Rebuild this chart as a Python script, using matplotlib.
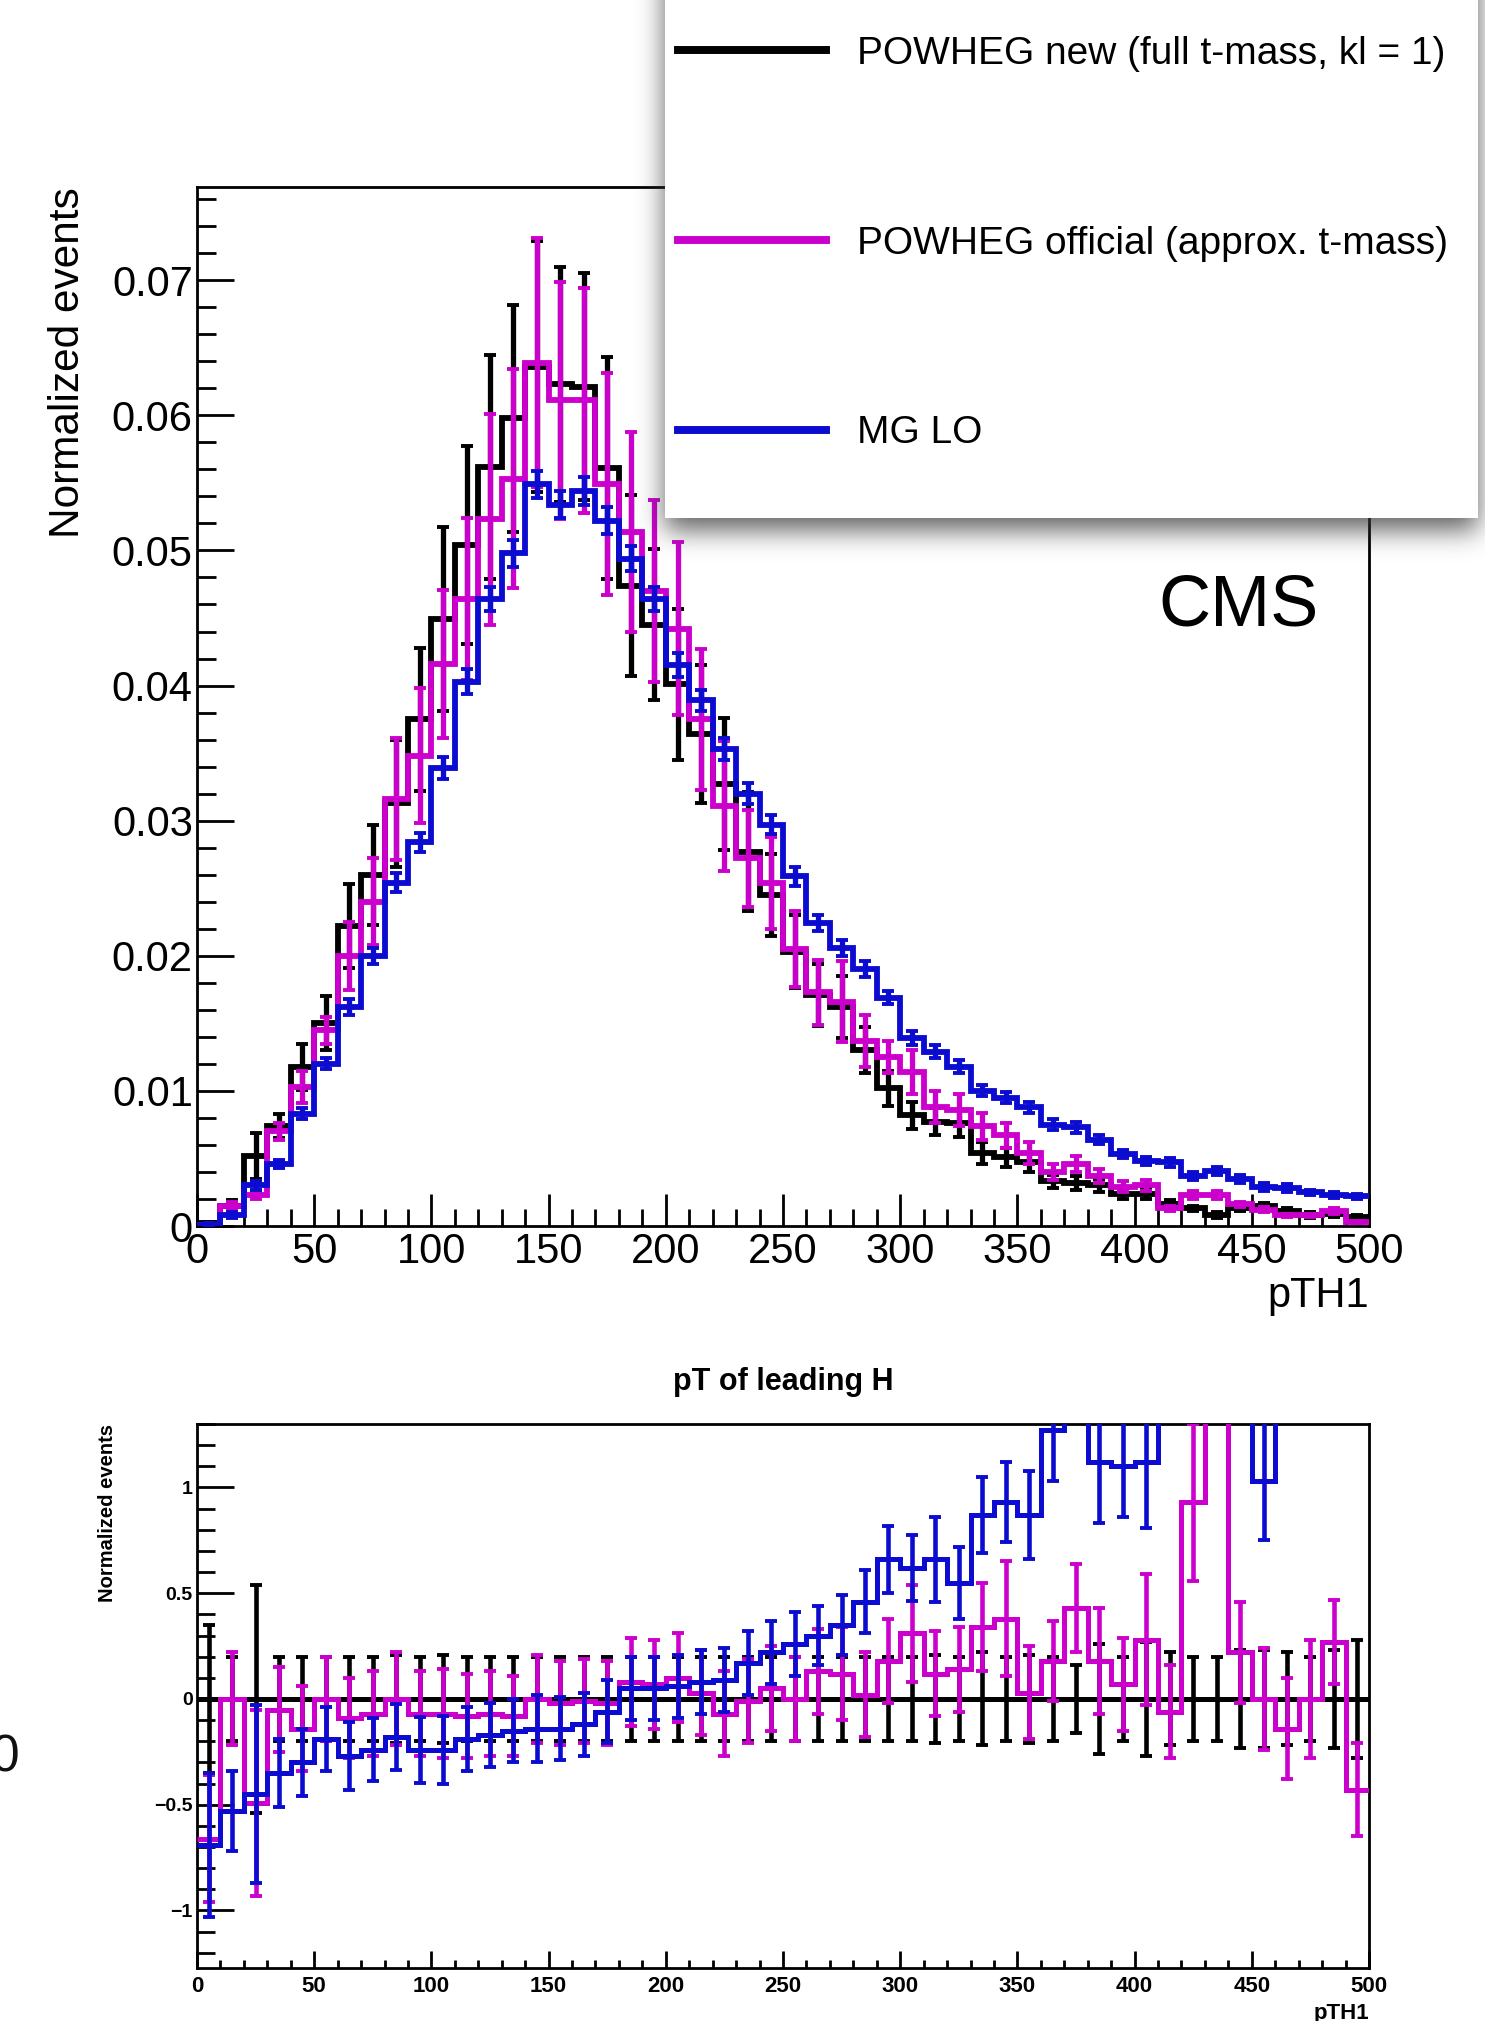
import math
import numpy as np
import matplotlib
matplotlib.use("Agg")
import matplotlib.pyplot as plt
from matplotlib.patches import Rectangle
from matplotlib.lines import Line2D
from matplotlib.ticker import MultipleLocator, FuncFormatter

plt.rcParams['font.family'] = ['Liberation Sans', 'DejaVu Sans']

# ---------------- data ----------------
bin_edges = [0, 10, 20, 30, 40, 50, 60, 70, 80, 90, 100, 110, 120, 130, 140, 150, 160, 170, 180, 190,
             200, 210, 220, 230, 240, 250, 260, 270, 280, 290, 300, 310, 320, 330, 340, 350, 360, 370,
             380, 390, 400, 410, 420, 430, 440, 450, 460, 470, 480, 490, 500]

labels = ["POWHEG new (full t-mass, kl = 1)",
          "POWHEG official (approx. t-mass)",
          "MG LO"]

powheg_new = [0.0002, 0.0015, 0.0052, 0.0074, 0.0118, 0.0150, 0.0222, 0.0260, 0.0313, 0.0375,
              0.0449, 0.0504, 0.0562, 0.0598, 0.0636, 0.0623, 0.0621, 0.0561, 0.0474, 0.0445,
              0.0401, 0.0364, 0.0327, 0.0277, 0.0245, 0.0203, 0.0171, 0.0162, 0.0130, 0.0102,
              0.0082, 0.0077, 0.0076, 0.0054, 0.0051, 0.0047, 0.0033, 0.0032, 0.0030, 0.0024,
              0.0024, 0.0016, 0.0013, 0.0008, 0.0013, 0.0015, 0.0011, 0.0008, 0.0009, 0.0007]
powheg_new_err = [0.0001, 0.0004, 0.0017, 0.0009, 0.0017, 0.0020, 0.0031, 0.0037, 0.0047, 0.0053,
                  0.0068, 0.0073, 0.0083, 0.0084, 0.0093, 0.0087, 0.0084, 0.0082, 0.0067, 0.0056,
                  0.0056, 0.0051, 0.0049, 0.0044, 0.0030, 0.0027, 0.0023, 0.0023, 0.0017, 0.0013,
                  0.0010, 0.0010, 0.0010, 0.0008, 0.0007, 0.0007, 0.0005, 0.0005, 0.0005, 0.0004,
                  0.0004, 0.0003, 0.0002, 0.0002, 0.0002, 0.0002, 0.0002, 0.0002, 0.0002, 0.0001]

powheg_off = [0.0001, 0.0015, 0.0023, 0.0070, 0.0103, 0.0145, 0.0200, 0.0240, 0.0316, 0.0348,
              0.0416, 0.0464, 0.0523, 0.0553, 0.0639, 0.0611, 0.0611, 0.0549, 0.0514, 0.0470,
              0.0442, 0.0375, 0.0311, 0.0272, 0.0254, 0.0205, 0.0173, 0.0166, 0.0137, 0.0125,
              0.0114, 0.0088, 0.0086, 0.0074, 0.0067, 0.0054, 0.0040, 0.0046, 0.0037, 0.0029,
              0.0030, 0.0013, 0.0023, 0.0023, 0.0016, 0.0012, 0.0008, 0.0008, 0.0011, 0.0003]
powheg_off_err = [0.0001, 0.0003, 0.0003, 0.0006, 0.0012, 0.0010, 0.0025, 0.0032, 0.0045, 0.0050,
                  0.0055, 0.0060, 0.0078, 0.0081, 0.0092, 0.0088, 0.0083, 0.0082, 0.0074, 0.0067,
                  0.0064, 0.0052, 0.0048, 0.0036, 0.0034, 0.0028, 0.0024, 0.0030, 0.0019, 0.0012,
                  0.0016, 0.0012, 0.0012, 0.0010, 0.0009, 0.0008, 0.0006, 0.0006, 0.0005, 0.0004,
                  0.0004, 0.0002, 0.0003, 0.0003, 0.0002, 0.0002, 0.0001, 0.0001, 0.0002, 0.0001]

mg_lo = [0.0001, 0.0008, 0.0030, 0.0046, 0.0083, 0.0120, 0.0162, 0.0200, 0.0254, 0.0284,
         0.0339, 0.0403, 0.0464, 0.0498, 0.0549, 0.0534, 0.0544, 0.0522, 0.0494, 0.0464,
         0.0415, 0.0389, 0.0353, 0.0320, 0.0297, 0.0259, 0.0224, 0.0206, 0.0190, 0.0169,
         0.0139, 0.0129, 0.0118, 0.0100, 0.0095, 0.0088, 0.0075, 0.0073, 0.0064, 0.0053,
         0.0048, 0.0047, 0.0037, 0.0041, 0.0035, 0.0029, 0.0028, 0.0025, 0.0023, 0.0022]
mg_lo_err = [0.0001, 0.0002, 0.0003, 0.0003, 0.0004, 0.0004, 0.0006, 0.0006, 0.0007, 0.0007,
             0.0008, 0.0009, 0.0009, 0.0010, 0.0010, 0.0010, 0.0010, 0.0010, 0.0009, 0.0009,
             0.0009, 0.0008, 0.0008, 0.0008, 0.0007, 0.0007, 0.0006, 0.0006, 0.0006, 0.0005,
             0.0005, 0.0005, 0.0005, 0.0004, 0.0004, 0.0004, 0.0004, 0.0004, 0.0003, 0.0003,
             0.0003, 0.0003, 0.0003, 0.0003, 0.0003, 0.0003, 0.0003, 0.0002, 0.0002, 0.0002]

# relative differences shown in the lower panel
ratio_new = [0.0, 0.0, 0.0, 0.0, 0.0, 0.0, 0.0, 0.0, 0.0, 0.0,
             0.0, 0.0, 0.0, 0.0, 0.0, 0.0, 0.0, 0.0, 0.0, 0.0,
             0.0, 0.0, 0.0, 0.0, 0.0, 0.0, 0.0, 0.0, 0.0, 0.0,
             0.0, 0.0, 0.0, 0.0, 0.0, 0.0, 0.0, 0.0, 0.0, 0.0,
             0.0, 0.0, 0.0, 0.0, 0.0, 0.0, 0.0, 0.0, 0.0, 0.0]
ratio_new_err = [0.35, 0.20, 0.54, 0.20, 0.20, 0.20, 0.20, 0.20, 0.21, 0.20,
                 0.21, 0.20, 0.20, 0.20, 0.20, 0.20, 0.20, 0.20, 0.20, 0.20,
                 0.20, 0.20, 0.20, 0.20, 0.20, 0.20, 0.20, 0.20, 0.20, 0.20,
                 0.20, 0.21, 0.20, 0.22, 0.20, 0.21, 0.20, 0.16, 0.26, 0.20,
                 0.27, 0.22, 0.20, 0.20, 0.23, 0.23, 0.22, 0.20, 0.23, 0.28]

ratio_off = [-0.66, 0.00, -0.49, -0.05, -0.14, 0.00, -0.09, -0.07, 0.00, -0.07,
             -0.07, -0.08, -0.07, -0.08, 0.00, -0.02, -0.01, -0.02, 0.08, 0.07,
             0.10, 0.03, -0.07, -0.01, 0.05, 0.00, 0.13, 0.12, 0.02, 0.18,
             0.31, 0.12, 0.14, 0.34, 0.38, 0.03, 0.18, 0.43, 0.18, 0.07,
             0.28, -0.06, 0.93, 2.00, 0.22, 0.00, -0.14, 0.00, 0.27, -0.43]
ratio_off_err = [0.30, 0.22, 0.44, 0.20, 0.20, 0.20, 0.19, 0.20, 0.22, 0.20,
                 0.21, 0.20, 0.20, 0.19, 0.21, 0.20, 0.20, 0.20, 0.21, 0.21,
                 0.21, 0.20, 0.20, 0.20, 0.20, 0.20, 0.20, 0.22, 0.20, 0.20,
                 0.23, 0.20, 0.20, 0.21, 0.27, 0.22, 0.19, 0.21, 0.25, 0.22,
                 0.31, 0.22, 0.37, 0.50, 0.24, 0.24, 0.24, 0.28, 0.20, 0.22]

ratio_mg = [-0.69, -0.53, -0.45, -0.35, -0.30, -0.19, -0.27, -0.24, -0.18, -0.24,
            -0.24, -0.19, -0.17, -0.15, -0.14, -0.14, -0.12, -0.06, 0.05, 0.05,
            0.06, 0.08, 0.09, 0.17, 0.22, 0.26, 0.30, 0.35, 0.46, 0.66,
            0.62, 0.66, 0.55, 0.87, 0.93, 0.87, 1.27, 1.90, 1.12, 1.10,
            1.12, 1.90, 2.20, 2.80, 2.00, 1.03, 1.80, 2.20, 1.90, 2.10]
ratio_mg_err = [0.34, 0.19, 0.42, 0.16, 0.16, 0.15, 0.16, 0.15, 0.155, 0.155,
                0.16, 0.15, 0.15, 0.15, 0.16, 0.15, 0.15, 0.15, 0.15, 0.15,
                0.15, 0.15, 0.15, 0.15, 0.15, 0.15, 0.14, 0.14, 0.15, 0.16,
                0.155, 0.20, 0.17, 0.18, 0.19, 0.21, 0.24, 0.30, 0.29, 0.24,
                0.31, 0.30, 0.30, 0.40, 0.30, 0.28, 0.30, 0.30, 0.30, 0.30]

# ---------------- style ----------------
C_NEW = '#000000'
C_OFF = '#cc00cc'
C_MG = '#0c0cd0'

W, H = 1485, 2021
fig = plt.figure(figsize=(W / 100, H / 100), dpi=100)

def frac_box(x0, y0, x1, y1):
    return [x0 / W, 1 - y1 / H, (x1 - x0) / W, (y1 - y0) / H]

ax = fig.add_axes(frac_box(197, 187, 1369, 1226))
axr = fig.add_axes(frac_box(197, 1424, 1369, 1968))

edges = np.array(bin_edges, dtype=float)
centers = 0.5 * (edges[:-1] + edges[1:])

def draw_hist(a, vals, errs, color, z, lw, elw, cap, capw):
    a.stairs(vals, edges, baseline=None, color=color, lw=lw, zorder=z)
    a.errorbar(centers, vals, yerr=errs, fmt='none', ecolor=color,
               elinewidth=elw, capsize=cap, capthick=capw, zorder=z)

draw_hist(ax, powheg_new, powheg_new_err, C_NEW, 2, 4.2, 3.8, 4.0, 2.8)
draw_hist(ax, powheg_off, powheg_off_err, C_OFF, 3, 4.2, 3.8, 4.0, 2.8)
draw_hist(ax, mg_lo, mg_lo_err, C_MG, 4, 4.2, 3.8, 4.0, 2.8)

draw_hist(axr, ratio_new, ratio_new_err, C_NEW, 2, 3.6, 3.3, 4.0, 2.8)
draw_hist(axr, ratio_off, ratio_off_err, C_OFF, 3, 3.6, 3.3, 4.0, 2.8)
draw_hist(axr, ratio_mg, ratio_mg_err, C_MG, 4, 3.6, 3.3, 4.0, 2.8)

# ---- upper panel axes
ax.set_xlim(0, 500)
ax.set_ylim(0, 0.0769)
ax.xaxis.set_major_locator(MultipleLocator(50))
ax.xaxis.set_minor_locator(MultipleLocator(10))
ax.yaxis.set_major_locator(MultipleLocator(0.01))
ax.yaxis.set_minor_locator(MultipleLocator(0.002))
ax.yaxis.set_major_formatter(FuncFormatter(lambda v, p: '0' if abs(v) < 1e-9 else f'{v:.2f}'))
ax.xaxis.set_major_formatter(FuncFormatter(lambda v, p: f'{v:.0f}'))
ax.tick_params(axis='y', which='major', direction='in', length=26.6, width=2, labelsize=30, pad=3)
ax.tick_params(axis='y', which='minor', direction='in', length=14, width=2)
ax.tick_params(axis='x', which='major', direction='in', length=23, width=2, labelsize=30, pad=4)
ax.tick_params(axis='x', which='minor', direction='in', length=12, width=2)
for s in ax.spines.values():
    s.set_linewidth(2)
ax.set_ylabel('Normalized events', loc='top', fontsize=30.5)
ax.yaxis.set_label_coords(-0.093, 1.0)
ax.set_xlabel('pTH1', loc='right', fontsize=30)
ax.xaxis.set_label_coords(1.0, -0.048)

# ---- lower panel axes
axr.set_xlim(0, 500)
axr.set_ylim(-1.272, 1.30)
axr.xaxis.set_major_locator(MultipleLocator(50))
axr.xaxis.set_minor_locator(MultipleLocator(10))
axr.yaxis.set_major_locator(MultipleLocator(0.5))
axr.yaxis.set_minor_locator(MultipleLocator(0.1))
axr.yaxis.set_major_formatter(FuncFormatter(lambda v, p: '0' if abs(v) < 1e-9 else f'{v:g}'.replace('-', '\u2212')))
axr.xaxis.set_major_formatter(FuncFormatter(lambda v, p: f'{v:.0f}'))
axr.tick_params(axis='y', which='major', direction='in', length=26.6, width=2, labelsize=14, pad=3)
axr.tick_params(axis='y', which='minor', direction='in', length=13, width=2)
axr.tick_params(axis='x', which='major', direction='in', length=12, width=2, labelsize=16, pad=6)
axr.tick_params(axis='x', which='minor', direction='in', length=6, width=2)
for lab in axr.get_xticklabels() + axr.get_yticklabels():
    lab.set_fontweight('bold')
for s in axr.spines.values():
    s.set_linewidth(2)
axr.set_ylabel('Normalized events', loc='top', fontsize=14.5, fontweight='bold')
axr.yaxis.set_label_coords(-0.068, 1.0)
axr.set_xlabel('pTH1', loc='right', fontsize=16, fontweight='bold')
axr.xaxis.set_label_coords(1.0, -0.064)
axr.set_title('pT of leading H', fontsize=22, fontweight='bold', pad=24.5)

# ---- overlay (legend box with soft shadow, CMS label, stray glyph)
ov = fig.add_axes([0, 0, 1, 1], zorder=10)
ov.set_xlim(0, W)
ov.set_ylim(H, 0)
ov.axis('off')

bx0, bx1, by1 = 665, 1478, 518
xs = np.arange(600, W) + 0.5
ys = np.arange(0, 620) + 0.5
sig = 13.0
erf = np.vectorize(math.erf)
fx = 0.5 * (erf((xs - bx0) / (sig * 1.4142)) - erf((xs - bx1) / (sig * 1.4142)))
fy = 0.5 * (erf((ys + 200) / (sig * 1.4142)) - erf((ys - (by1 + 12)) / (sig * 1.4142)))
alpha = 0.8 * np.outer(fy, fx)
shadow = np.zeros((len(ys), len(xs), 4))
shadow[..., 0:3] = 0.22
shadow[..., 3] = alpha
ov.imshow(shadow, extent=(600, W, 620, 0), aspect='auto', interpolation='bilinear', zorder=1)
ov.add_patch(Rectangle((bx0, -10), bx1 - bx0, by1 + 10, facecolor='white', edgecolor='none', zorder=2))

handles = [Line2D([], [], color=C_NEW, lw=5.7),
           Line2D([], [], color=C_OFF, lw=5.7),
           Line2D([], [], color=C_MG, lw=5.7)]
leg = ov.legend(handles, labels, loc='upper left', bbox_to_anchor=(678, 36),
                bbox_transform=ov.transData, frameon=False, fontsize=28,
                handlelength=3.8, handletextpad=0.8, labelspacing=3.95,
                borderpad=0, borderaxespad=0)
leg.set_zorder(3)

ov.text(1158, 625, 'CMS', fontsize=52, ha='left', va='baseline', zorder=3)
ov.text(20, 1772, '0', fontsize=37, ha='right', va='baseline', color='#111111', zorder=3)

fig.savefig('out.png', dpi=100)
